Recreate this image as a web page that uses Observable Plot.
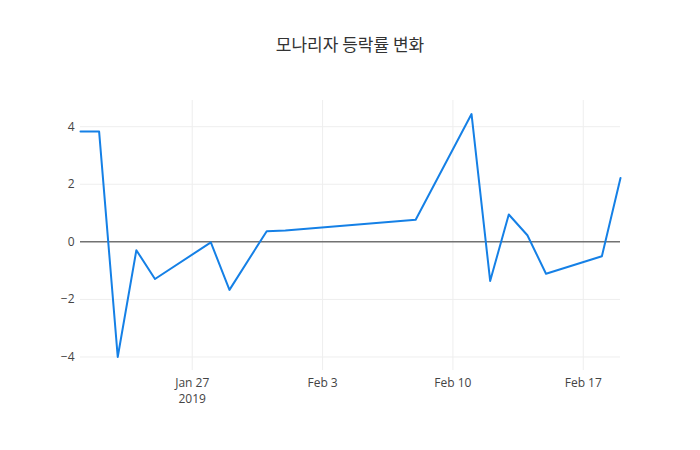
<!DOCTYPE html>
<html>
<head>
<meta charset="utf-8">
<script src="https://cdn.jsdelivr.net/npm/d3@7"></script>
<script src="https://cdn.jsdelivr.net/npm/@observablehq/plot@0.6"></script>
<style>
  html, body { margin: 0; padding: 0; background: #fff; }
  #wrap { position: relative; width: 700px; height: 450px; }
  #title { position: absolute; left: 0; top: 31px; width: 700px; text-align: center;
    font-family: "Noto Sans CJK KR", "Open Sans", sans-serif; font-size: 17px; color: #333; }
</style>
</head>
<body>
<div id="wrap">
  <div id="title">모나리자 등락률 변화</div>
</div>
<script>
const dates = ["2019-01-21","2019-01-22","2019-01-23","2019-01-24","2019-01-25","2019-01-28","2019-01-29","2019-01-31","2019-02-01","2019-02-08","2019-02-11","2019-02-12","2019-02-13","2019-02-14","2019-02-15","2019-02-18","2019-02-19"];
const changes = [3.83, 3.83, -4.0, -0.29, -1.29, -0.02, -1.67, 0.37, 0.39, 0.77, 4.44, -1.36, 0.95, 0.23, -1.11, -0.50, 2.22];
const yTicks = [-4, -2, 0, 2, 4];
const xTicks = ["2019-01-27","2019-02-03","2019-02-10","2019-02-17"];
const xTickLabels = ["Jan 27\n2019","Feb 3","Feb 10","Feb 17"];

const parse = d3.utcParse("%Y-%m-%d");
const data = dates.map((d, i) => ({date: parse(d), value: changes[i]}));
const xt = xTicks.map(parse);
const ymin = d3.min(changes), ymax = d3.max(changes);
const pad = (ymax - ymin) * 0.0557;
const xFmt = (d) => xTickLabels[xt.findIndex(t => +t === +d)];
const yFmt = d => d < 0 ? "\u2212" + Math.abs(d) : String(d);

const chart = Plot.plot({
  width: 700,
  height: 450,
  marginTop: 100,
  marginBottom: 80,
  marginLeft: 80,
  marginRight: 80,
  style: {fontFamily: "'Open Sans', sans-serif", fontSize: "12px", color: "#444", background: "transparent"},
  x: {type: "utc", domain: [data[0].date, data[data.length-1].date], label: null},
  y: {domain: [ymin - pad, ymax + pad], label: null},
  marks: [
    Plot.gridX(xt, {stroke: "#eee", strokeOpacity: 1, strokeWidth: 1}),
    Plot.gridY(yTicks, {stroke: "#eee", strokeOpacity: 1, strokeWidth: 1}),
    Plot.ruleY([0], {stroke: "#333", strokeWidth: 1}),
    Plot.line(data, {x: "date", y: "value", stroke: "#1580e6", strokeWidth: 2}),
    Plot.axisX({ticks: xt, tickSize: 0, tickPadding: 5, lineHeight: 1.35, tickFormat: xFmt, fill: "#444", label: null}),
    Plot.axisY({ticks: yTicks, tickSize: 0, tickPadding: 6, tickFormat: yFmt, fill: "#444", label: null})
  ]
});
chart.style.position = "absolute";
chart.style.left = "0";
chart.style.top = "0";
document.getElementById("wrap").appendChild(chart);
</script>
</body>
</html>
